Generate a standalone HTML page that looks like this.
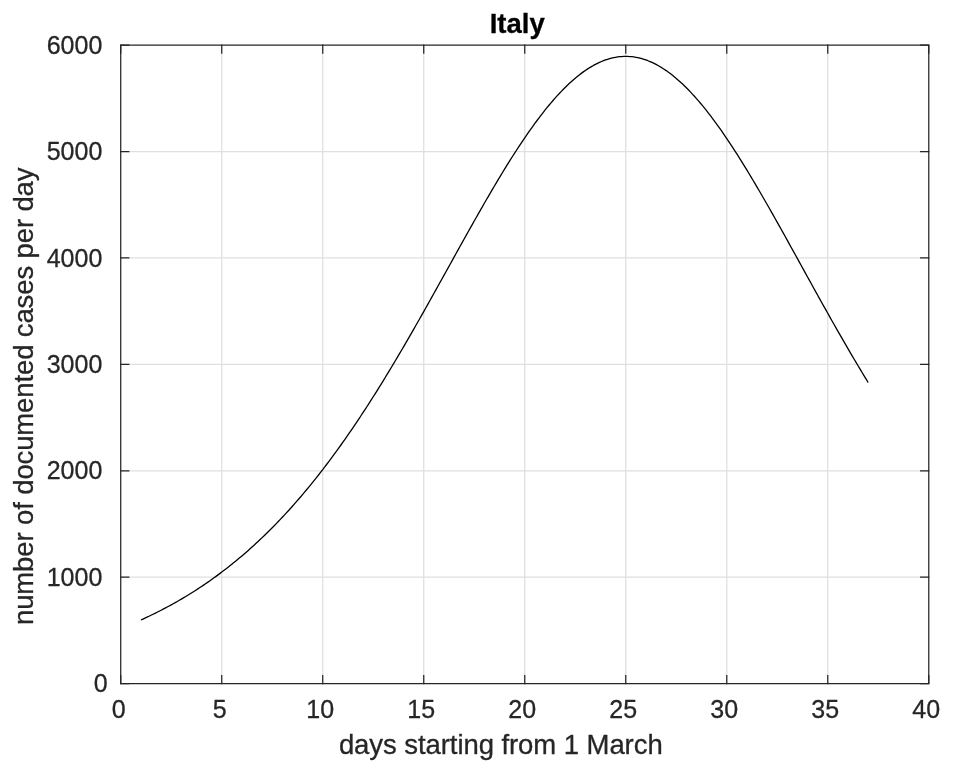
<!DOCTYPE html>
<html lang="en"><head><meta charset="utf-8"><title>Italy</title>
<style>
html,body{margin:0;padding:0;background:#fff;}
body{width:954px;height:772px;overflow:hidden;}
svg{display:block;}
text{font-family:"Liberation Sans",Arial,Helvetica,sans-serif;fill:#262626;stroke:#262626;stroke-width:0.3px;stroke-linejoin:round;}
.tk{font-size:25px;}
.lb{font-size:27.5px;letter-spacing:-0.125px;}
.xl{letter-spacing:-0.07px;}
.tt{font-size:27.5px;font-weight:bold;fill:#000;stroke:#000;}
</style></head><body>
<svg width="954" height="772" viewBox="0 0 954 772">
<rect x="0" y="0" width="954" height="772" fill="#ffffff"/>
<path d="M221.73,45.11 V683.62 M322.73,45.11 V683.62 M423.74,45.11 V683.62 M524.75,45.11 V683.62 M625.75,45.11 V683.62 M726.76,45.11 V683.62 M827.76,45.11 V683.62 M120.72,577.20 H928.77 M120.72,470.78 H928.77 M120.72,364.37 H928.77 M120.72,257.95 H928.77 M120.72,151.53 H928.77" fill="none" stroke="#dfdfdf" stroke-width="1.25"/>
<path d="M140.92,619.98 L142.94,619.06 L144.96,618.13 L146.98,617.19 L149.00,616.24 L151.02,615.27 L153.04,614.29 L155.06,613.30 L157.08,612.29 L159.10,611.27 L161.12,610.24 L163.14,609.19 L165.16,608.13 L167.18,607.05 L169.20,605.96 L171.22,604.86 L173.24,603.74 L175.26,602.61 L177.28,601.46 L179.30,600.29 L181.32,599.12 L183.34,597.92 L185.36,596.71 L187.38,595.49 L189.40,594.25 L191.42,592.99 L193.44,591.72 L195.46,590.43 L197.48,589.12 L199.50,587.80 L201.52,586.46 L203.55,585.10 L205.57,583.73 L207.59,582.34 L209.61,580.93 L211.63,579.50 L213.65,578.06 L215.67,576.60 L217.69,575.12 L219.71,573.62 L221.73,572.10 L223.75,570.57 L225.77,569.02 L227.79,567.44 L229.81,565.85 L231.83,564.24 L233.85,562.61 L235.87,560.96 L237.89,559.29 L239.91,557.60 L241.93,555.89 L243.95,554.16 L245.97,552.41 L247.99,550.64 L250.01,548.84 L252.03,547.03 L254.05,545.20 L256.07,543.34 L258.09,541.47 L260.11,539.57 L262.13,537.65 L264.15,535.71 L266.17,533.75 L268.19,531.77 L270.21,529.76 L272.23,527.73 L274.25,525.68 L276.27,523.61 L278.29,521.52 L280.31,519.40 L282.33,517.26 L284.35,515.09 L286.37,512.91 L288.39,510.70 L290.41,508.47 L292.43,506.21 L294.45,503.93 L296.47,501.63 L298.49,499.30 L300.51,496.96 L302.53,494.58 L304.55,492.19 L306.57,489.77 L308.59,487.32 L310.61,484.86 L312.63,482.37 L314.65,479.85 L316.67,477.31 L318.69,474.75 L320.71,472.16 L322.73,469.56 L324.75,466.92 L326.77,464.26 L328.79,461.58 L330.81,458.88 L332.83,456.15 L334.85,453.40 L336.87,450.62 L338.89,447.82 L340.91,445.00 L342.93,442.15 L344.95,439.29 L346.97,436.39 L348.99,433.48 L351.01,430.54 L353.03,427.58 L355.05,424.60 L357.07,421.59 L359.09,418.56 L361.11,415.51 L363.13,412.44 L365.16,409.35 L367.18,406.23 L369.20,403.09 L371.22,399.94 L373.24,396.76 L375.26,393.56 L377.28,390.34 L379.30,387.10 L381.32,383.84 L383.34,380.56 L385.36,377.27 L387.38,373.95 L389.40,370.62 L391.42,367.26 L393.44,363.90 L395.46,360.51 L397.48,357.11 L399.50,353.69 L401.52,350.25 L403.54,346.80 L405.56,343.33 L407.58,339.85 L409.60,336.36 L411.62,332.85 L413.64,329.33 L415.66,325.80 L417.68,322.25 L419.70,318.70 L421.72,315.13 L423.74,311.56 L425.76,307.97 L427.78,304.38 L429.80,300.77 L431.82,297.16 L433.84,293.55 L435.86,289.93 L437.88,286.30 L439.90,282.67 L441.92,279.03 L443.94,275.39 L445.96,271.75 L447.98,268.11 L450.00,264.47 L452.02,260.82 L454.04,257.18 L456.06,253.54 L458.08,249.90 L460.10,246.27 L462.12,242.64 L464.14,239.02 L466.16,235.40 L468.18,231.79 L470.20,228.19 L472.22,224.60 L474.24,221.02 L476.26,217.45 L478.28,213.89 L480.30,210.34 L482.32,206.81 L484.34,203.30 L486.36,199.80 L488.38,196.32 L490.40,192.85 L492.42,189.41 L494.44,185.98 L496.46,182.58 L498.48,179.20 L500.50,175.85 L502.52,172.52 L504.54,169.21 L506.56,165.93 L508.58,162.68 L510.60,159.46 L512.62,156.27 L514.64,153.11 L516.66,149.98 L518.68,146.89 L520.70,143.83 L522.72,140.81 L524.75,137.82 L526.77,134.87 L528.79,131.96 L530.81,129.09 L532.83,126.27 L534.85,123.48 L536.87,120.74 L538.89,118.04 L540.91,115.39 L542.93,112.78 L544.95,110.22 L546.97,107.71 L548.99,105.25 L551.01,102.84 L553.03,100.48 L555.05,98.17 L557.07,95.92 L559.09,93.72 L561.11,91.58 L563.13,89.49 L565.15,87.46 L567.17,85.49 L569.19,83.57 L571.21,81.72 L573.23,79.92 L575.25,78.19 L577.27,76.52 L579.29,74.91 L581.31,73.36 L583.33,71.88 L585.35,70.46 L587.37,69.11 L589.39,67.82 L591.41,66.60 L593.43,65.44 L595.45,64.36 L597.47,63.34 L599.49,62.39 L601.51,61.50 L603.53,60.69 L605.55,59.95 L607.57,59.27 L609.59,58.67 L611.61,58.14 L613.63,57.67 L615.65,57.28 L617.67,56.96 L619.69,56.71 L621.71,56.53 L623.73,56.43 L625.75,56.39 L627.77,56.43 L629.79,56.53 L631.81,56.71 L633.83,56.97 L635.85,57.29 L637.87,57.69 L639.89,58.15 L641.91,58.69 L643.93,59.30 L645.95,59.98 L647.97,60.73 L649.99,61.55 L652.01,62.44 L654.03,63.40 L656.05,64.43 L658.07,65.53 L660.09,66.70 L662.11,67.93 L664.13,69.23 L666.15,70.59 L668.17,72.02 L670.19,73.52 L672.21,75.08 L674.23,76.71 L676.25,78.39 L678.27,80.14 L680.29,81.96 L682.31,83.83 L684.33,85.76 L686.36,87.75 L688.38,89.80 L690.40,91.91 L692.42,94.07 L694.44,96.29 L696.46,98.56 L698.48,100.89 L700.50,103.27 L702.52,105.70 L704.54,108.18 L706.56,110.71 L708.58,113.29 L710.60,115.92 L712.62,118.60 L714.64,121.32 L716.66,124.08 L718.68,126.89 L720.70,129.74 L722.72,132.64 L724.74,135.57 L726.76,138.54 L728.78,141.55 L730.80,144.60 L732.82,147.68 L734.84,150.80 L736.86,153.95 L738.88,157.13 L740.90,160.35 L742.92,163.59 L744.94,166.87 L746.96,170.17 L748.98,173.50 L751.00,176.85 L753.02,180.23 L755.04,183.64 L757.06,187.06 L759.08,190.51 L761.10,193.98 L763.12,197.46 L765.14,200.97 L767.16,204.49 L769.18,208.03 L771.20,211.58 L773.22,215.15 L775.24,218.73 L777.26,222.32 L779.28,225.92 L781.30,229.54 L783.32,233.16 L785.34,236.79 L787.36,240.43 L789.38,244.07 L791.40,247.72 L793.42,251.37 L795.44,255.02 L797.46,258.68 L799.48,262.34 L801.50,266.00 L803.52,269.66 L805.54,273.32 L807.56,276.98 L809.58,280.64 L811.60,284.29 L813.62,287.94 L815.64,291.58 L817.66,295.22 L819.68,298.85 L821.70,302.47 L823.72,306.09 L825.74,309.69 L827.76,313.29 L829.78,316.88 L831.80,320.46 L833.82,324.03 L835.84,327.58 L837.86,331.13 L839.88,334.66 L841.90,338.17 L843.92,341.68 L845.94,345.17 L847.97,348.64 L849.99,352.10 L852.01,355.55 L854.03,358.97 L856.05,362.38 L858.07,365.78 L860.09,369.15 L862.11,372.51 L864.13,375.85 L866.15,379.17 L868.17,382.47" fill="none" stroke="#000000" stroke-width="1.3" stroke-linejoin="round"/>
<path d="M120.72,683.62 v-8.10 M120.72,45.11 v8.10 M221.73,683.62 v-8.10 M221.73,45.11 v8.10 M322.73,683.62 v-8.10 M322.73,45.11 v8.10 M423.74,683.62 v-8.10 M423.74,45.11 v8.10 M524.75,683.62 v-8.10 M524.75,45.11 v8.10 M625.75,683.62 v-8.10 M625.75,45.11 v8.10 M726.76,683.62 v-8.10 M726.76,45.11 v8.10 M827.76,683.62 v-8.10 M827.76,45.11 v8.10 M928.77,683.62 v-8.10 M928.77,45.11 v8.10 M120.72,683.62 h8.10 M928.77,683.62 h-8.10 M120.72,577.20 h8.10 M928.77,577.20 h-8.10 M120.72,470.78 h8.10 M928.77,470.78 h-8.10 M120.72,364.37 h8.10 M928.77,364.37 h-8.10 M120.72,257.95 h8.10 M928.77,257.95 h-8.10 M120.72,151.53 h8.10 M928.77,151.53 h-8.10 M120.72,45.11 h8.10 M928.77,45.11 h-8.10" fill="none" stroke="#262626" stroke-width="1.25" stroke-linecap="square"/>
<path d="M120.72,45.11 H928.77 M120.72,683.62 H928.77 M120.72,45.11 V683.62 M928.77,45.11 V683.62" fill="none" stroke="#262626" stroke-width="1.25" stroke-linecap="square"/>
<text class="tk" x="118.72" y="718.30" text-anchor="middle">0</text>
<text class="tk" x="219.73" y="718.30" text-anchor="middle">5</text>
<text class="tk" x="320.23" y="718.30" text-anchor="middle">10</text>
<text class="tk" x="421.24" y="718.30" text-anchor="middle">15</text>
<text class="tk" x="522.25" y="718.30" text-anchor="middle">20</text>
<text class="tk" x="623.25" y="718.30" text-anchor="middle">25</text>
<text class="tk" x="724.26" y="718.30" text-anchor="middle">30</text>
<text class="tk" x="825.26" y="718.30" text-anchor="middle">35</text>
<text class="tk" x="926.27" y="718.30" text-anchor="middle">40</text>
<text class="tk" x="107.70" y="692.32" text-anchor="end">0</text>
<text class="tk" x="102.30" y="585.90" text-anchor="end">1000</text>
<text class="tk" x="102.30" y="479.48" text-anchor="end">2000</text>
<text class="tk" x="102.30" y="373.06" text-anchor="end">3000</text>
<text class="tk" x="102.30" y="266.65" text-anchor="end">4000</text>
<text class="tk" x="102.30" y="160.23" text-anchor="end">5000</text>
<text class="tk" x="102.30" y="53.81" text-anchor="end">6000</text>
<text class="lb xl" x="338.90" y="754.00">days starting from 1 March</text>
<text class="lb" transform="translate(33.40,625.00) rotate(-90)" x="0" y="0">number of documented cases per day</text>
<text class="tt" x="489.70" y="32.80">Italy</text>
</svg>
</body></html>
